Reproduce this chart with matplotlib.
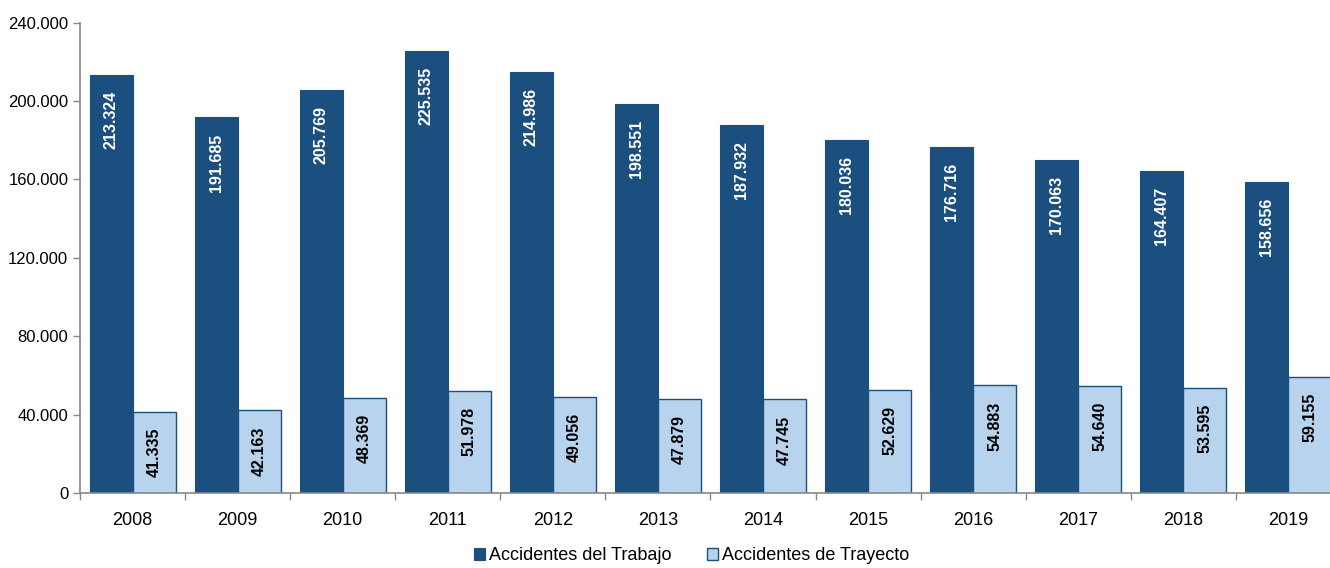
import matplotlib.pyplot as plt
import numpy as np
from matplotlib.ticker import FuncFormatter, MultipleLocator

plt.rcParams['font.family'] = ['Liberation Sans', 'DejaVu Sans']

years = ['2008', '2009', '2010', '2011', '2012', '2013', '2014', '2015', '2016', '2017', '2018', '2019']
trabajo = [213324, 191685, 205769, 225535, 214986, 198551, 187932, 180036, 176716, 170063, 164407, 158656]
trayecto = [41335, 42163, 48369, 51978, 49056, 47879, 47745, 52629, 54883, 54640, 53595, 59155]

dark = '#1B4F80'
light = '#B7D3EE'


def miles(v, pos=None):
    return f'{int(v):,}'.replace(',', '.')


fig = plt.figure(figsize=(13.3, 5.68), dpi=100)
ax = fig.add_axes([0.0602, 0.132, 0.948, 0.828])

x = np.arange(len(years))
w = 0.41
b1 = ax.bar(x - w / 2, trabajo, w, color=dark, edgecolor=dark, linewidth=0.8, label='Accidentes del Trabajo')
b2 = ax.bar(x + w / 2, trayecto, w, color=light, edgecolor=dark, linewidth=1.0, label='Accidentes de Trayecto')

for rect, v in zip(b1, trabajo):
    ax.annotate(miles(v), (rect.get_x() + rect.get_width() / 2, v), xytext=(0, -11.5),
                textcoords='offset points', ha='center', va='top', rotation=90,
                color='white', fontsize=11.5, fontweight='bold')
for rect, v in zip(b2, trayecto):
    ax.annotate(miles(v), (rect.get_x() + rect.get_width() / 2, v), xytext=(0, -11.5),
                textcoords='offset points', ha='center', va='top', rotation=90,
                color='black', fontsize=11.5, fontweight='bold')

ax.set_xlim(-0.5, len(years) - 0.5)
ax.set_ylim(0, 240000)
ax.yaxis.set_major_locator(MultipleLocator(40000))
ax.yaxis.set_major_formatter(FuncFormatter(miles))

ax.set_xticks(x)
ax.set_xticklabels(years, fontsize=13)
ax.set_xticks(np.arange(len(years) + 1) - 0.5, minor=True)
ax.tick_params(axis='x', which='major', length=0, pad=14)
ax.tick_params(axis='x', which='minor', length=5, color='#888888', width=1)
ax.tick_params(axis='y', labelsize=12, length=5, color='#888888', width=1)

for s in ['top', 'right']:
    ax.spines[s].set_visible(False)
for s in ['left', 'bottom']:
    ax.spines[s].set_color('#888888')
    ax.spines[s].set_linewidth(1.2)

fig.legend(handles=[b1, b2], loc='lower center', bbox_to_anchor=(0.52, -0.022), ncol=2,
           frameon=False, fontsize=13, handlelength=0.6, handleheight=0.6,
           handletextpad=0.2, columnspacing=2.0)

fig.savefig('out.png', dpi=100)
